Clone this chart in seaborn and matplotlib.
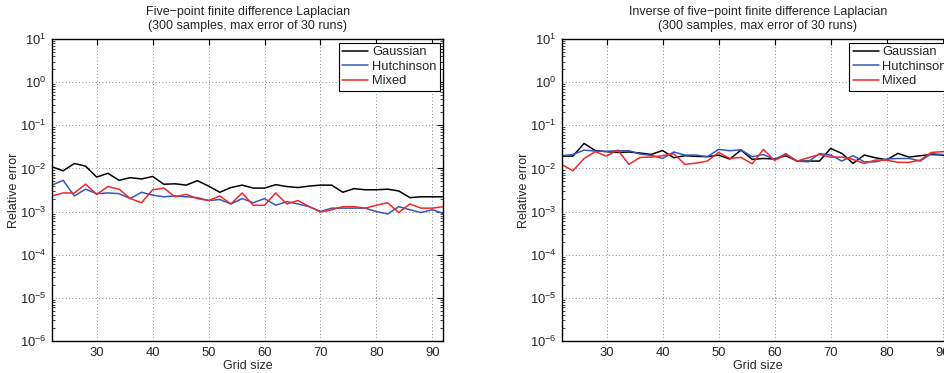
import numpy as np
import pandas as pd
import matplotlib
matplotlib.use("Agg")
import matplotlib.pyplot as plt
import matplotlib.ticker as mticker
import seaborn as sns

grid_size = [22, 24, 26, 28, 30, 32, 34, 36, 38, 40, 42, 44, 46, 48, 50, 52, 54, 56,
             58, 60, 62, 64, 66, 68, 70, 72, 74, 76, 78, 80, 82, 84, 86, 88, 90, 92]

left_gaussian = [0.0109, 0.0088, 0.0130, 0.0113, 0.0063, 0.0077, 0.0053, 0.0061, 0.0057,
                 0.0065, 0.0043, 0.0044, 0.0041, 0.0052, 0.0039, 0.0028, 0.0036, 0.0041,
                 0.0035, 0.0035, 0.0042, 0.0038, 0.0036, 0.0039, 0.0041, 0.0041, 0.0028,
                 0.0034, 0.0032, 0.0032, 0.0033, 0.0030, 0.0021, 0.0022, 0.0022, 0.0022]
left_hutchinson = [0.0041, 0.0053, 0.0023, 0.0033, 0.0026, 0.0027, 0.0026, 0.0020, 0.0028,
                   0.0024, 0.0022, 0.0023, 0.0022, 0.0021, 0.0018, 0.0019, 0.0015, 0.0020,
                   0.0016, 0.0020, 0.0014, 0.0017, 0.0015, 0.0013, 0.0010, 0.0012, 0.0012,
                   0.0012, 0.0012, 0.0010, 0.00088, 0.0013, 0.0011, 0.00095, 0.0011, 0.0009]
left_mixed = [0.0023, 0.0027, 0.0027, 0.0043, 0.0025, 0.0038, 0.0033, 0.0020, 0.0016,
              0.0032, 0.0035, 0.0022, 0.0025, 0.0020, 0.0018, 0.0023, 0.0015, 0.0027,
              0.0014, 0.0014, 0.0027, 0.0015, 0.0018, 0.0013, 0.00098, 0.0011, 0.0013,
              0.0013, 0.0012, 0.0014, 0.0016, 0.00095, 0.0015, 0.0012, 0.0012, 0.0013]

right_gaussian = [0.0193, 0.0193, 0.0380, 0.0257, 0.0244, 0.0235, 0.0240, 0.0227, 0.0211,
                  0.0260, 0.0177, 0.0197, 0.0190, 0.0187, 0.0203, 0.0165, 0.0266, 0.0162,
                  0.0170, 0.0165, 0.0197, 0.0148, 0.0148, 0.0148, 0.0290, 0.0223, 0.0131,
                  0.0204, 0.0177, 0.0158, 0.0223, 0.0183, 0.0197, 0.0210, 0.0204, 0.0170]
right_hutchinson = [0.0197, 0.0210, 0.0266, 0.0252, 0.0250, 0.0257, 0.0257, 0.0215, 0.0200,
                    0.0171, 0.0240, 0.0204, 0.0204, 0.0187, 0.0276, 0.0257, 0.0270, 0.0186,
                    0.0210, 0.0160, 0.0220, 0.0148, 0.0142, 0.0220, 0.0204, 0.0148, 0.0197,
                    0.0142, 0.0142, 0.0165, 0.0170, 0.0170, 0.0148, 0.0220, 0.0210, 0.0200]
right_mixed = [0.0124, 0.0088, 0.0170, 0.0244, 0.0193, 0.0266, 0.0124, 0.0180, 0.0183,
               0.0197, 0.0219, 0.0124, 0.0133, 0.0148, 0.0235, 0.0170, 0.0180, 0.0128,
               0.0276, 0.0153, 0.0210, 0.0148, 0.0177, 0.0210, 0.0183, 0.0183, 0.0162,
               0.0130, 0.0156, 0.0156, 0.0138, 0.0138, 0.0156, 0.0235, 0.0244, 0.0240]

methods = ["Gaussian", "Hutchinson", "Mixed"]
titles = ["Five\u2212point finite difference Laplacian\n(300 samples, max error of 30 runs)",
          "Inverse of five\u2212point finite difference Laplacian\n(300 samples, max error of 30 runs)"]
x_ticks = [30, 40, 50, 60, 70, 80, 90]
y_ticks = [1e-6, 1e-5, 1e-4, 1e-3, 1e-2, 1e-1, 1e0, 1e1]

palette = {"Gaussian": "#000000", "Hutchinson": "#3558bd", "Mixed": "#f02828"}


def long_frame(series):
    rows = []
    for name, vals in zip(methods, series):
        for g, v in zip(grid_size, vals):
            rows.append({"Grid size": g, "Relative error": v, "Method": name})
    return pd.DataFrame(rows)


sns.set_style("white")
plt.rcParams["font.family"] = ["Liberation Sans", "DejaVu Sans"]
plt.rcParams["mathtext.fontset"] = "custom"
plt.rcParams["mathtext.rm"] = "Liberation Sans"
plt.rcParams["mathtext.it"] = "Liberation Sans:italic"

fig = plt.figure(figsize=(9.45, 3.73), dpi=100)
ax_l = fig.add_axes([0.0550, 0.0858, 0.4143, 0.8097])
ax_r = fig.add_axes([0.5944, 0.0858, 0.4150, 0.8097])

panels = [(ax_l, [left_gaussian, left_hutchinson, left_mixed]),
          (ax_r, [right_gaussian, right_hutchinson, right_mixed])]

fs = 9.0
for (ax, series), title in zip(panels, titles):
    df = long_frame(series)
    sns.lineplot(data=df, x="Grid size", y="Relative error", hue="Method",
                 palette=palette, hue_order=methods, linewidth=1.1, ax=ax,
                 estimator=None, sort=False)
    ax.set_yscale("log")
    ax.set_xlim(22, 92)
    ax.set_ylim(1e-6, 1e1)
    ax.set_xticks(x_ticks)
    ax.set_yticks(y_ticks)
    ax.yaxis.set_minor_locator(mticker.LogLocator(base=10, subs=np.arange(2, 10), numticks=20))
    ax.yaxis.set_minor_formatter(mticker.NullFormatter())
    ax.tick_params(axis="both", which="major", direction="in", length=4, width=0.8,
                   top=True, right=True, labelsize=9.4, pad=4, color="black")
    ax.tick_params(axis="y", which="minor", direction="in", length=2, width=0.6,
                   left=True, right=True)
    ax.grid(True, which="major", linestyle=(0, (1, 3)), color="#666666", linewidth=0.6)
    for s in ax.spines.values():
        s.set_visible(True)
        s.set_color("black")
        s.set_linewidth(1.0)
    ax.set_title(title, fontsize=fs, pad=7, linespacing=1.2)
    ax.set_xlabel("Grid size", fontsize=fs, labelpad=1)
    ax.set_ylabel("Relative error", fontsize=fs, labelpad=0)
    leg = ax.legend(loc="upper right", fontsize=9.3, frameon=True, fancybox=False,
                    framealpha=1, edgecolor="black", borderaxespad=0.3,
                    handlelength=2.0, labelspacing=0.2, borderpad=0.25, handletextpad=0.3)
    leg.get_frame().set_linewidth(0.8)
    for line in leg.get_lines():
        line.set_linewidth(1.1)
    ax.set_axisbelow(True)

fig.savefig("out.png", dpi=100)
